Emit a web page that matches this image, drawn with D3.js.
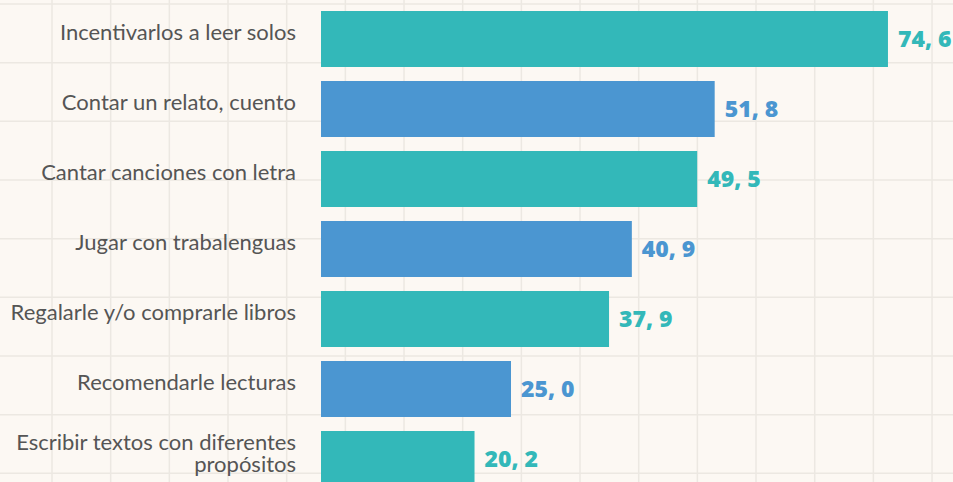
<!DOCTYPE html>
<html>
<head>
<meta charset="utf-8">
<script src="https://cdn.jsdelivr.net/npm/d3@7"></script>
<style>
  html, body { margin: 0; padding: 0; background: #fcf8f3; }
  svg { display: block; }
</style>
</head>
<body>
<svg id="chart" width="953" height="482"></svg>
<script>
// Data
const categories = [
  "Incentivarlos a leer solos",
  "Contar un relato, cuento",
  "Cantar canciones con letra",
  "Jugar con trabalenguas",
  "Regalarle y/o comprarle libros",
  "Recomendarle lecturas",
  "Escribir textos con diferentes|propósitos"
];
const values = [74.6, 51.8, 49.5, 40.9, 37.9, 25.0, 20.2];
const valueLabels = ["74, 6", "51, 8", "49, 5", "40, 9", "37, 9", "25, 0", "20, 2"];

const width = 953, height = 482;
const colors = ["#33b8b9", "#4b96d1"];

const svg = d3.select("#chart");

// paper-like background grid
const bg = svg.append("g");
bg.append("rect").attr("width", width).attr("height", height).attr("fill", "#fcf8f3");
const cell = 58.67;
bg.selectAll("line.v")
  .data(d3.range(52 - cell, width, cell))
  .enter().append("line")
  .attr("x1", d => d).attr("x2", d => d)
  .attr("y1", 0).attr("y2", height)
  .attr("stroke", "#ece8e2").attr("stroke-width", 1.5);
bg.selectAll("line.h")
  .data(d3.range(4, height, cell))
  .enter().append("line")
  .attr("y1", d => d).attr("y2", d => d)
  .attr("x1", 0).attr("x2", width)
  .attr("stroke", "#ece8e2").attr("stroke-width", 1.5);

// Scales
const x = d3.scaleLinear().domain([0, 100]).range([321, 1081]);
const y = d3.scaleBand()
  .domain(categories)
  .range([4, 494])
  .paddingInner(0.2)
  .paddingOuter(0.1);

// Bars
svg.selectAll(".bar")
  .data(categories)
  .enter().append("rect")
  .attr("class", "bar")
  .attr("x", x(0))
  .attr("y", d => y(d))
  .attr("width", (d, i) => x(values[i]) - x(0))
  .attr("height", y.bandwidth())
  .attr("fill", (d, i) => colors[i % 2]);

// Category labels
const labels = svg.selectAll(".cat")
  .data(categories)
  .enter().append("text")
  .attr("class", "cat")
  .attr("text-anchor", "end")
  .style("font-family", "Lato")
  .style("font-size", "22px")
  .attr("fill", "#555555");

labels.each(function(d) {
  const lines = d.split("|");
  const cy = y(d) + y.bandwidth() / 2;
  const t = d3.select(this);
  lines.forEach((ln, k) => {
    t.append("tspan")
      .attr("x", 296)
      .attr("y", lines.length > 1 ? cy - 9 + k * 22 : cy + 1)
      .text(ln);
  });
});

// Value labels
svg.selectAll(".val")
  .data(categories)
  .enter().append("text")
  .attr("class", "val")
  .attr("x", (d, i) => x(values[i]) + 10)
  .attr("y", d => y(d) + y.bandwidth() / 2 + 8)
  .style("font-family", "'Open Sans'")
  .style("font-weight", "800")
  .style("font-size", "23px")
  .attr("fill", (d, i) => colors[i % 2])
  .text((d, i) => valueLabels[i]);
</script>
</body>
</html>
